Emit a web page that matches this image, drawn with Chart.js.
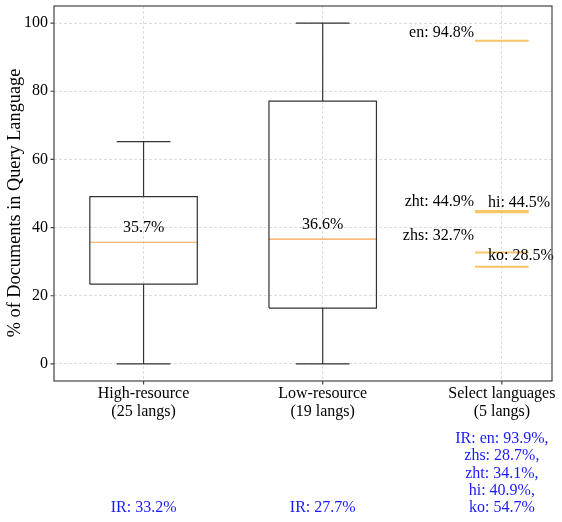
<!DOCTYPE html>
<html>
<head>
<meta charset="utf-8">
<script src="https://cdn.jsdelivr.net/npm/chart.js@4.4.1/dist/chart.umd.min.js"></script>
<style>
  html, body { margin: 0; padding: 0; background: white; }
  #wrap { width: 562px; height: 522px; position: relative; }
</style>
</head>
<body>
<div id="wrap"><canvas id="boxChart"></canvas></div>
<script>
// data
const categories = [['High-resource', '(25 langs)'], ['Low-resource', '(19 langs)'], ['Select languages', '(5 langs)']];
const yTicks = [0, 20, 40, 60, 80, 100];

// box plots for the first two groups
const boxLow = [0, 0];
const boxQ1 = [23.4, 16.4];
const boxMedian = [35.7, 36.6];
const boxQ3 = [49.1, 77.1];
const boxHigh = [65.2, 100];

// single values for the select languages
const selectLangs = ['en', 'zht', 'hi', 'zhs', 'ko'];
const selectValues = [94.8, 44.9, 44.5, 32.7, 28.5];

// IR text under each group
const irLines = [
    ['IR: 33.2%'],
    ['IR: 27.7%'],
    ['IR: en: 93.9%,', 'zhs: 28.7%,', 'zht: 34.1%,', 'hi: 40.9%,', 'ko: 54.7%']
];

const FONT = '"Liberation Serif", "Times New Roman", serif';
const BOX_W = 0.3;   // half width of a box
const CAP_W = 0.15;  // half width of whisker caps / select lines

// build line datasets (null point = break in line)
const GAP = { x: null, y: null };
const boxPts = [], whiskerPts = [], medianPts = [];
for (let i = 0; i < boxQ1.length; i++) {
    const x = i + 1;
    boxPts.push({ x: x - BOX_W, y: boxQ1[i] }, { x: x + BOX_W, y: boxQ1[i] },
        { x: x + BOX_W, y: boxQ3[i] }, { x: x - BOX_W, y: boxQ3[i] },
        { x: x - BOX_W, y: boxQ1[i] }, GAP);
    whiskerPts.push({ x: x, y: boxQ1[i] }, { x: x, y: boxLow[i] }, GAP,
        { x: x - CAP_W, y: boxLow[i] }, { x: x + CAP_W, y: boxLow[i] }, GAP,
        { x: x, y: boxQ3[i] }, { x: x, y: boxHigh[i] }, GAP,
        { x: x - CAP_W, y: boxHigh[i] }, { x: x + CAP_W, y: boxHigh[i] }, GAP);
    medianPts.push({ x: x - BOX_W, y: boxMedian[i] }, { x: x + BOX_W, y: boxMedian[i] }, GAP);
}
const selectPts = [];
selectValues.forEach(v => {
    selectPts.push({ x: 3 - CAP_W, y: v }, { x: 3 + CAP_W, y: v }, GAP);
});

// label placement for select languages: [side, dx px from line start, dy px]
const selectLabelPos = {
    en: ['right', -1, -8],
    zht: ['right', -1, -9],
    hi: ['left', 13, -9],
    zhs: ['right', -1, -17],
    ko: ['left', 13, -11]
};

const lineDs = (data, color, width) => ({
    data: data, showLine: true, borderColor: color, borderWidth: width,
    pointRadius: 0, spanGaps: false, fill: false
});

const decor = {
    id: 'decor',
    afterDatasetsDraw(chart) {
        const c = chart.ctx;
        const xs = chart.scales.x, ys = chart.scales.y;
        c.save();
        c.fillStyle = '#000';
        c.font = '16px ' + FONT;
        // median labels
        c.textAlign = 'center';
        c.textBaseline = 'middle';
        boxMedian.forEach((m, i) => {
            c.fillText(m.toFixed(1) + '%', xs.getPixelForValue(i + 1), ys.getPixelForValue(m) - 14);
        });
        // select language labels
        const start = xs.getPixelForValue(3 - CAP_W);
        selectLangs.forEach((lang, i) => {
            const p = selectLabelPos[lang];
            c.textAlign = p[0];
            c.fillText(lang + ': ' + selectValues[i].toFixed(1) + '%', start + p[1], ys.getPixelForValue(selectValues[i]) + p[2]);
        });
        c.restore();
    },
    afterDraw(chart) {
        const c = chart.ctx;
        const a = chart.chartArea;
        const xs = chart.scales.x, ys = chart.scales.y;
        c.save();
        // frame
        c.strokeStyle = '#444';
        c.lineWidth = 1.2;
        c.strokeRect(a.left, a.top, a.right - a.left, a.bottom - a.top);
        // tick marks
        c.beginPath();
        yTicks.forEach(t => {
            const y = ys.getPixelForValue(t);
            c.moveTo(a.left - 3.5, y); c.lineTo(a.left, y);
        });
        categories.forEach((cat, i) => {
            const x = xs.getPixelForValue(i + 1);
            c.moveTo(x, a.bottom); c.lineTo(x, a.bottom + 3.5);
        });
        c.stroke();
        // y title
        c.fillStyle = '#000';
        c.font = '18.3px ' + FONT;
        c.textAlign = 'center';
        c.textBaseline = 'middle';
        c.translate(15, 203);
        c.rotate(-Math.PI / 2);
        c.fillText('% of Documents in Query Language', 0, 0);
        c.restore();
        // blue IR text
        c.save();
        c.fillStyle = '#1a1aff';
        c.font = '16px ' + FONT;
        c.textAlign = 'center';
        c.textBaseline = 'middle';
        irLines.forEach((lines, i) => {
            const x = xs.getPixelForValue(i + 1);
            for (let k = 0; k < lines.length; k++) {
                const y = 508 - (lines.length - 1 - k) * 17.3;
                c.fillText(lines[k], x, y);
            }
        });
        c.restore();
    }
};

const ctx = document.getElementById('boxChart').getContext('2d');
new Chart(ctx, {
    type: 'scatter',
    data: {
        datasets: [
            lineDs(boxPts, '#333', 1.2),
            lineDs(whiskerPts, '#333', 1.2),
            lineDs(medianPts, '#f7a050', 1.2),
            lineDs(selectPts, '#f8c468', 2)
        ]
    },
    options: {
        responsive: true,
        maintainAspectRatio: false,
        animation: false,
        layout: { padding: { left: 0, right: 10, top: 6, bottom: 0 } },
        plugins: {
            legend: { display: false },
            tooltip: { enabled: false }
        },
        scales: {
            x: {
                type: 'linear',
                min: 0.5,
                max: 3.28,
                afterBuildTicks: scale => { scale.ticks = categories.map((c, i) => ({ value: i + 1 })); },
                afterFit: scale => {
                    scale.height = 141;
                    scale.paddingLeft = 0;
                    scale.paddingRight = 0;
                },
                ticks: {
                    color: '#000',
                    padding: 4,
                    maxRotation: 0,
                    autoSkip: false,
                    font: { family: FONT, size: 16, lineHeight: 1.1 },
                    callback: (value, index) => categories[index]
                },
                grid: { color: '#d4d4d4', lineWidth: 0.8, drawTicks: false },
                border: { display: false, dash: [3, 2] }
            },
            y: {
                min: -5,
                max: 105,
                afterBuildTicks: scale => { scale.ticks = yTicks.map(v => ({ value: v })); },
                afterFit: scale => {
                    scale.width = 54;
                    scale.paddingTop = 0;
                    scale.paddingBottom = 0;
                },
                ticks: {
                    color: '#000',
                    padding: 6,
                    font: { family: FONT, size: 16 }
                },
                grid: { color: '#d4d4d4', lineWidth: 0.8, drawTicks: false },
                border: { display: false, dash: [3, 2] }
            }
        }
    },
    plugins: [decor]
});
</script>
</body>
</html>
